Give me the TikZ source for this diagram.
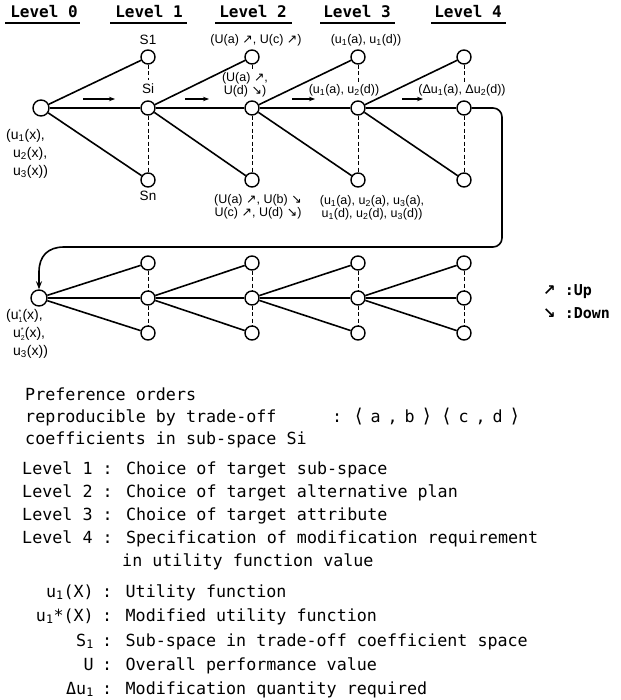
\documentclass[tikz,border=0pt]{standalone}
\usepackage{fontspec}
\setmainfont{Liberation Sans}
\newfontfamily\mono{DejaVu Sans Mono}
\newfontfamily\arrf{DejaVu Sans}
\usetikzlibrary{arrows.meta}
\newcommand\uarr{{\arrf ↗}}
\newcommand\darr{{\arrf ↘}}
\newcommand\sbs[1]{\textsubscript{#1}}
\newcommand\ust[1]{u\rlap{\raisebox{5.5pt}{\fontsize{7}{7}\selectfont *}}\raisebox{-2.5pt}{\fontsize{7}{7}\selectfont #1}}
\newcommand\cb[1]{\makebox[17pt]{#1}}
\newcommand\lab{{\arrf\fontsize{19}{20}\selectfont\char"27E8}}
\newcommand\rab{{\arrf\fontsize{19}{20}\selectfont\char"27E9}}
\begin{document}
\begin{tikzpicture}[x=1pt,y=-1pt,
  nd/.style={circle,draw,line width=1.4pt,fill=white,minimum size=14pt,inner sep=0pt},
  bignd/.style={nd,minimum size=16pt},
  ln/.style={line width=1.6pt},
  dsh/.style={line width=1pt,dash pattern=on 4pt off 2.5pt},
  mv/.style={-{Stealth[length=6pt,width=4.5pt]},line width=1.2pt},
  hdr/.style={font=\mono\bfseries\fontsize{16}{18}\selectfont,inner sep=0pt},
  lab/.style={font=\fontsize{12.5}{11.5}\selectfont,inner sep=0.6pt,align=center},
  slab/.style={font=\fontsize{13.5}{14}\selectfont,inner sep=0.6pt},
  zlab/.style={font=\fontsize{14}{18}\selectfont,inner sep=0pt,anchor=north west,align=left},
  leg/.style={font=\mono\fontsize{16.7}{20}\selectfont,anchor=base west,inner sep=0pt},
  legr/.style={leg,anchor=base east},
  ud/.style={font=\mono\bfseries\fontsize{15}{17}\selectfont,anchor=west,inner sep=0pt}]
\useasboundingbox (0,0) rectangle (620,700);
\fill[white] (0,0) rectangle (620,700);

% headers
\foreach \i/\x/\a/\b in {0/44/5/80,1/149/110/187,2/253/215/292,3/357/320/395,4/468/431/506}{
  \node[hdr] (h\i) at (\x,12) {Level \i};
  \draw[line width=1.4pt] (\a,23) -- (\b,23);
}

% top row
\node[bignd] (A0) at (41,108) {};
\foreach \i/\x in {1/148,2/252,3/358,4/464}{
  \node[nd] (At\i) at (\x,57) {};
  \node[nd] (Am\i) at (\x,108) {};
  \node[nd] (Ab\i) at (\x,180) {};
}
\coordinate (q1) at (148,80);
\coordinate (q2) at (252,71);
\coordinate (q3) at (358,82);
\coordinate (q4) at (464,82);
\foreach \i/\p in {1/A0,2/Am1,3/Am2,4/Am3}{
  \draw[ln] (\p) -- (At\i);
  \draw[ln] (\p) -- (Am\i);
  \draw[ln] (\p) -- (Ab\i);
  \draw[dsh] (At\i) -- (q\i);
  \draw[dsh] (Am\i) -- (Ab\i);
}

% bottom row
\node[bignd] (B0) at (39,298) {};
\foreach \i/\x in {1/148,2/252,3/358,4/464}{
  \node[nd] (Bt\i) at (\x,263) {};
  \node[nd] (Bm\i) at (\x,298) {};
  \node[nd] (Bb\i) at (\x,333) {};
}
\foreach \i/\p in {1/B0,2/Bm1,3/Bm2,4/Bm3}{
  \draw[ln] (\p) -- (Bt\i);
  \draw[ln] (\p) -- (Bm\i);
  \draw[ln] (\p) -- (Bb\i);
  \draw[dsh] (Bt\i) -- (Bm\i);
  \draw[dsh] (Bm\i) -- (Bb\i);
}

% return path
\coordinate (r1) at (502,108);
\coordinate (r2) at (502,247);
\coordinate (r3) at (64,247);
\coordinate (r4) at (39,272);
\draw[ln,rounded corners=9pt] (Am4) -- (r1) -- (r2) -- (r3);
\draw[ln,-{Stealth[length=8pt,width=6pt]}] (r3) .. controls (48,247) and (39,256) .. (r4) -- (B0);

% small direction arrows
\foreach \a/\b [count=\k] in {83/115,185/209,292/315,402/423}{
  \coordinate (s\k) at (\a,99);
  \coordinate (e\k) at (\b,99);
  \draw[mv] (s\k) -- (e\k);
}

% labels
\node[slab] (lS1) at (148,40) {S1};
\node[slab] (lSi) at (148,89) {Si};
\node[slab] (lSn) at (148,196) {Sn};
\node[lab] (l2t) at (256,40) {(U(a) \uarr, U(c) \uarr)};
\node[lab] (l2m) at (245,85) {(U(a) \uarr,\\ U(d) \darr)};
\node[lab] (l2b) at (258,207) {(U(a) \uarr, U(b) \darr\\ U(c) \uarr, U(d) \darr)};
\node[lab] (l3t) at (366,40) {(u\sbs{1}(a), u\sbs{1}(d))};
\node[lab] (l3m) at (344,90) {(u\sbs{1}(a), u\sbs{2}(d))};
\node[lab] (l3b) at (372,208) {(u\sbs{1}(a), u\sbs{2}(a), u\sbs{3}(a),\\ u\sbs{1}(d), u\sbs{2}(d), u\sbs{3}(d))};
\node[lab] (l4m) at (462,90) {(Δu\sbs{1}(a), Δu\sbs{2}(d))};

\node[zlab] (z1) at (6,129) {(u\sbs{1}(x),\\\hspace*{7pt}u\sbs{2}(x),\\\hspace*{7pt}u\sbs{3}(x))};
\node[zlab] (y1) at (6,309) {(\ust{1}(x),\\\hspace*{7pt}\ust{2}(x),\\\hspace*{7pt}u\sbs{3}(x))};

\node[ud] (up) at (543,292) {\uarr\ :Up};
\node[ud] (dn) at (543,313) {\darr\ :Down};

% legend
\node[leg] (p1) at (25,400) {Preference orders};
\node[leg] (p2) at (25,422) {reproducible by trade-off};
\node[leg] (p3) at (25,444) {coefficients in sub-space Si};
\node[leg] (pc) at (332,422) {:};
\node[leg] (po) at (350,422) {\cb{\lab}\cb{a}\cb{,}\cb{b}\cb{\rab}\kern3pt\cb{\lab}\cb{c}\cb{,}\cb{d}\cb{\rab}};

\node[leg] (v1) at (22,474) {Level 1 : Choice of target sub-space};
\node[leg] (v2) at (22,497) {Level 2 : Choice of target alternative plan};
\node[leg] (v3) at (22,520) {Level 3 : Choice of target attribute};
\node[leg] (v4) at (22,543) {Level 4 : Specification of modification requirement};
\node[leg] (v5) at (122,566) {in utility function value};

\node[legr] (d1) at (94,597) {u\textsubscript{1}(X)};
\node[leg] (e1) at (102,597) {: Utility function};
\node[legr] (d2) at (94,621) {u\textsubscript{1}*(X)};
\node[leg] (e2) at (102,621) {: Modified utility function};
\node[legr] (d3) at (94,646) {S\textsubscript{1}};
\node[leg] (e3) at (102,646) {: Sub-space in trade-off coefficient space};
\node[legr] (d4) at (94,670) {U};
\node[leg] (e4) at (102,670) {: Overall performance value};
\node[legr] (d5) at (94,694) {Δu\textsubscript{1}};
\node[leg] (e5) at (102,694) {: Modification quantity required};
\end{tikzpicture}
\end{document}
